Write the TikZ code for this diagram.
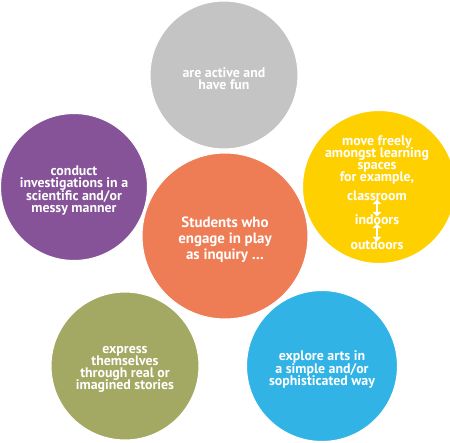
\documentclass[tikz,border=0pt]{standalone}
\usepackage{fontspec}
\setmainfont{PT Sans}
\usetikzlibrary{positioning,arrows.meta}
\definecolor{mygray}{RGB}{196,196,196}
\definecolor{mypurple}{RGB}{134,83,153}
\definecolor{myyellow}{RGB}{255,208,0}
\definecolor{myorange}{RGB}{238,124,85}
\definecolor{mygreen}{RGB}{163,168,99}
\definecolor{myblue}{RGB}{49,179,230}
\newcommand{\tightlines}{\lineskiplimit-5pt\relax}
\tikzset{
  bubble/.style={circle,draw=white,line width=0.6pt,inner sep=0pt},
  words/.style={inner sep=0pt,text=white,align=center,yshift=-2pt,
    font=\fontsize{7.9}{6.9}\selectfont\bfseries\tightlines},
  bigwords/.style={words,font=\fontsize{8.5}{9}\selectfont\bfseries\tightlines},
  place/.style={inner sep=0pt,text=white,font=\fontsize{7.9}{6.9}\selectfont\bfseries\tightlines},
  twoway/.style={white,line width=1.4pt,{Triangle[width=5pt,length=2.6pt]}-{Triangle[width=5pt,length=2.6pt]},
    shorten <=-1pt,shorten >=-1pt}
}
\begin{document}
\begin{tikzpicture}[x=0.02cm,y=-0.02cm]
    \useasboundingbox (0,0) rectangle (450,443);
    % outer bubbles
    \node[bubble,fill=mygray,minimum size=2.96cm] (fun) at (224,75) {};
    \node[words] (funtext) at (fun.center) {are active and\\have fun};
    \node[bubble,fill=mypurple,minimum size=2.94cm] (investigate) at (74,187) {};
    \node[words] (investigatetext) at (investigate.center) {conduct\\investigations in a\\scientific and/or\\messy manner};
    \node[bubble,fill=myyellow,minimum size=3.06cm] (move) at (379,187) {};
    \node[place,align=center] (movetext) at (377,160) {move freely\\amongst learning\\spaces\\for example,};
    \node[place] (classroom) at (377,196) {classroom};
    \node[place] (indoors) at (377,220) {indoors};
    \node[place] (outdoors) at (377,245) {outdoors};
    \draw[twoway] (classroom) -- (indoors);
    \draw[twoway] (indoors) -- (outdoors);
    \node[bubble,fill=mygreen,minimum size=2.96cm] (express) at (125,366) {};
    \node[words] (expresstext) at (express.center) {express\\themselves\\through real or\\imagined stories};
    \node[bubble,fill=myblue,minimum size=3.02cm] (arts) at (322,366) {};
    \node[words] (artstext) at (arts.center) {explore arts in\\a simple and/or\\sophisticated way};
    % centre bubble
    \node[bubble,fill=myorange,minimum size=3.32cm] (inquiry) at (225,236) {};
    \node[bigwords] (inquirytext) at (inquiry.center) {Students who\\engage in play\\as inquiry \dots};
  \end{tikzpicture}
\end{document}
